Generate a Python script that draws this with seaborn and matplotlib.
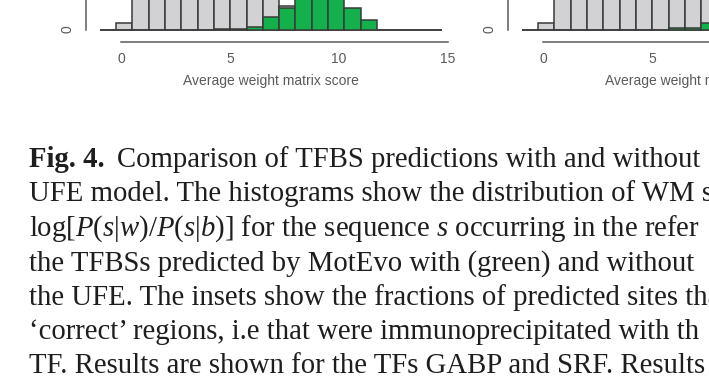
import numpy as np
import pandas as pd
import matplotlib
matplotlib.use("Agg")
import matplotlib.pyplot as plt
import seaborn as sns

# ---------------- data ----------------
bin_start = -1.0
bin_width = 0.75
n_bins = 21
x_ticks = [0, 5, 10, 15]
y_ticks = [0]
x_label = "Average weight matrix score"

# GABP (left panel): counts per bin
gabp_without_ufe = [0, 70, 900, 1600, 2100, 2400, 2500, 2300, 1900, 1400, 800,
                    240, 60, 20, 5, 0, 0, 0, 0, 0, 0]
gabp_with_ufe = [0, 0, 0, 0, 0, 0, 0, 8, 10, 30, 125,
                 220, 700, 900, 650, 220, 95, 0, 0, 0, 0]
# SRF (right panel)
srf_without_ufe = [0, 65, 700, 1300, 1800, 2100, 2200, 2000, 1700, 1300, 900,
                   500, 200, 60, 10, 0, 0, 0, 0, 0, 0]
srf_with_ufe = [0, 0, 0, 0, 0, 0, 0, 0, 0, 15, 20,
                65, 180, 380, 450, 350, 160, 50, 10, 0, 0]

# caption, as far as it is visible in the cropped picture
caption_bold = "Fig. 4."
caption_lines = [
    "Comparison of TFBS predictions with and without",
    "UFE model. The histograms show the distribution of WM s",
    r"log[$P(s|w)/P(s|b)$] for the sequence $s$ occurring in the refer",
    "the TFBSs predicted by MotEvo with (green) and without",
    "the UFE. The insets show the fractions of predicted sites tha",
    "\u2018correct\u2019 regions, i.e that were immunoprecipitated with th",
    "TF. Results are shown for the TFs GABP and SRF. Results",
]

# ---------------- style ----------------
sns.set_style("white")
plt.rcParams["font.family"] = ["Liberation Sans", "DejaVu Sans"]
plt.rcParams["mathtext.fontset"] = "custom"
plt.rcParams["mathtext.rm"] = "Liberation Serif"
plt.rcParams["mathtext.it"] = "Liberation Serif:italic"

GREY = "#d2d2d4"
GREEN = "#13b04b"
EDGE = "#3a3a3a"
AXC = "#5a5a5a"

W, H = 709, 392
fig = plt.figure(figsize=(W / 100, H / 100), dpi=100)

edges = [bin_start + bin_width * k for k in range(n_bins + 1)]
centers = [bin_start + bin_width * (k + 0.5) for k in range(n_bins)]

ax_h_px = 330
px_per_count = 0.1
y_bottom = -12.2 / px_per_count
y_top = y_bottom + ax_h_px / px_per_count


def panel(left_px, without, with_):
    ax = fig.add_axes([left_px / W, (H - 41.7) / H, 370 / W, ax_h_px / H])
    df = pd.DataFrame({"score": centers, "without": without, "with": with_})
    sns.histplot(data=df, x="score", weights="without", bins=edges, ax=ax,
                 color=GREY, edgecolor=EDGE, linewidth=1.1, alpha=1)
    sns.histplot(data=df, x="score", weights="with", bins=edges, ax=ax,
                 color=GREEN, edgecolor=EDGE, linewidth=1.1, alpha=1)
    ax.set_xlim(-1.63, 15.38)
    ax.set_ylim(y_bottom, y_top)
    for s in ("top", "right"):
        ax.spines[s].set_visible(False)
    ax.spines["left"].set_bounds(0, y_top)
    ax.spines["bottom"].set_bounds(0, 15)
    for s in ("left", "bottom"):
        ax.spines[s].set_color(AXC)
        ax.spines[s].set_linewidth(1.1)
    ax.set_xticks(x_ticks)
    ax.set_yticks(y_ticks)
    ax.tick_params(axis="both", direction="out", length=4.3, width=1.1,
                   color=AXC, labelcolor=AXC, labelsize=10)
    ax.tick_params(axis="x", pad=3)
    ax.tick_params(axis="y", labelrotation=90, pad=4)
    for lab in ax.get_yticklabels():
        lab.set_va("center")
    ax.set_ylabel("")
    ax.set_xlabel(x_label, fontsize=10, color=AXC, labelpad=6)
    return ax


panel(86, gabp_without_ufe, gabp_with_ufe)
panel(508, srf_without_ufe, srf_with_ufe)

# ---------------- caption ----------------
cap_font = ["Liberation Serif", "DejaVu Serif"]
cap_size = 20.7
cap_color = "#1e1e1e"
x0 = 29 / W
base0 = 167
step = 34.4

tb = fig.text(x0, 1 - base0 / H, caption_bold, family=cap_font, size=cap_size,
              weight="bold", color=cap_color, va="baseline", ha="left")
fig.add_artist(
    matplotlib.text.Annotation(caption_lines[0], xy=(1, 0), xycoords=tb,
                               xytext=(9.0, 0), textcoords="offset points",
                               family=cap_font, size=cap_size, color=cap_color,
                               va="bottom", ha="left"))
for i, line in enumerate(caption_lines[1:], start=1):
    fig.text(x0, 1 - (base0 + step * i) / H, line, family=cap_font,
             size=cap_size, color=cap_color, va="baseline", ha="left")

fig.savefig("out.png", dpi=100)
